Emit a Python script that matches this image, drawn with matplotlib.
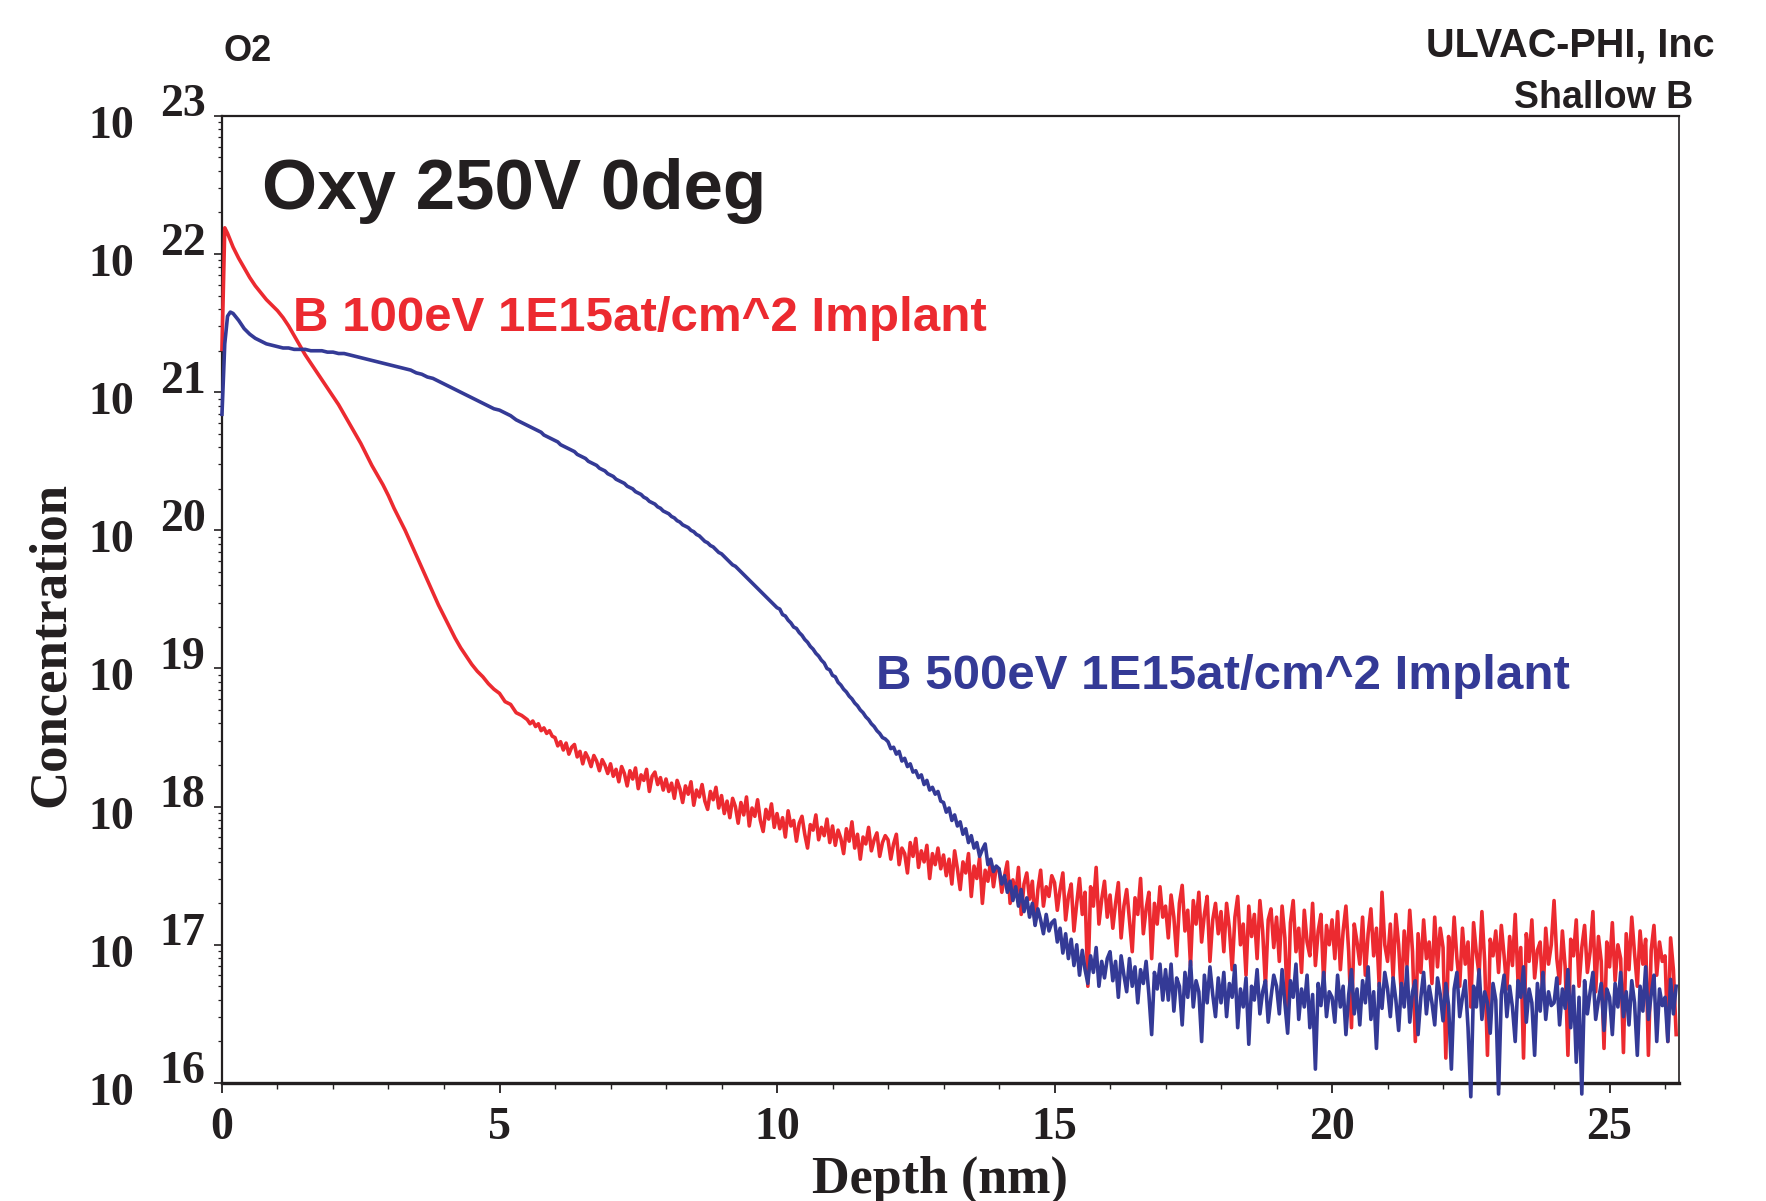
import numpy as np
import matplotlib
matplotlib.use("Agg")
import matplotlib.pyplot as plt
from matplotlib.ticker import LogLocator, MultipleLocator, NullFormatter
from matplotlib.transforms import ScaledTranslation

# ── data: depth (nm) and log10 of B concentration ──
# coarse steps near the surface, 0.05 nm once the counting noise sets in
depth = [
    0.0, 0.05, 0.1, 0.15, 0.2, 0.3, 0.4, 0.5, 0.6, 0.7, 0.8, 0.9,
    1.0, 1.1, 1.2, 1.3, 1.4, 1.5, 1.6, 1.7, 1.8, 1.9,
    2.0, 2.1, 2.2, 2.3, 2.4, 2.5, 2.6, 2.7, 2.8, 2.9,
    3.0, 3.1, 3.2, 3.3, 3.4, 3.5, 3.6, 3.7, 3.8, 3.9,
    4.0, 4.1, 4.2, 4.3, 4.4, 4.5, 4.6, 4.7, 4.8, 4.9,
    5.0, 5.1, 5.2, 5.3, 5.4,
    5.5, 5.55, 5.6, 5.65, 5.7, 5.75, 5.8, 5.85, 5.9, 5.95,
    6.0, 6.05, 6.1, 6.15, 6.2, 6.25, 6.3, 6.35, 6.4, 6.45, 6.5, 6.55, 6.6, 6.65, 6.7, 6.75, 6.8, 6.85, 6.9, 6.95,
    7.0, 7.05, 7.1, 7.15, 7.2, 7.25, 7.3, 7.35, 7.4, 7.45, 7.5, 7.55, 7.6, 7.65, 7.7, 7.75, 7.8, 7.85, 7.9, 7.95,
    8.0, 8.05, 8.1, 8.15, 8.2, 8.25, 8.3, 8.35, 8.4, 8.45, 8.5, 8.55, 8.6, 8.65, 8.7, 8.75, 8.8, 8.85, 8.9, 8.95,
    9.0, 9.05, 9.1, 9.15, 9.2, 9.25, 9.3, 9.35, 9.4, 9.45, 9.5, 9.55, 9.6, 9.65, 9.7, 9.75, 9.8, 9.85, 9.9, 9.95,
    10.0, 10.05, 10.1, 10.15, 10.2, 10.25, 10.3, 10.35, 10.4, 10.45, 10.5, 10.55, 10.6, 10.65, 10.7, 10.75, 10.8, 10.85, 10.9, 10.95,
    11.0, 11.05, 11.1, 11.15, 11.2, 11.25, 11.3, 11.35, 11.4, 11.45, 11.5, 11.55, 11.6, 11.65, 11.7, 11.75, 11.8, 11.85, 11.9, 11.95,
    12.0, 12.05, 12.1, 12.15, 12.2, 12.25, 12.3, 12.35, 12.4, 12.45, 12.5, 12.55, 12.6, 12.65, 12.7, 12.75, 12.8, 12.85, 12.9, 12.95,
    13.0, 13.05, 13.1, 13.15, 13.2, 13.25, 13.3, 13.35, 13.4, 13.45, 13.5, 13.55, 13.6, 13.65, 13.7, 13.75, 13.8, 13.85, 13.9, 13.95,
    14.0, 14.05, 14.1, 14.15, 14.2, 14.25, 14.3, 14.35, 14.4, 14.45, 14.5, 14.55, 14.6, 14.65, 14.7, 14.75, 14.8, 14.85, 14.9, 14.95,
    15.0, 15.05, 15.1, 15.15, 15.2, 15.25, 15.3, 15.35, 15.4, 15.45, 15.5, 15.55, 15.6, 15.65, 15.7, 15.75, 15.8, 15.85, 15.9, 15.95,
    16.0, 16.05, 16.1, 16.15, 16.2, 16.25, 16.3, 16.35, 16.4, 16.45, 16.5, 16.55, 16.6, 16.65, 16.7, 16.75, 16.8, 16.85, 16.9, 16.95,
    17.0, 17.05, 17.1, 17.15, 17.2, 17.25, 17.3, 17.35, 17.4, 17.45, 17.5, 17.55, 17.6, 17.65, 17.7, 17.75, 17.8, 17.85, 17.9, 17.95,
    18.0, 18.05, 18.1, 18.15, 18.2, 18.25, 18.3, 18.35, 18.4, 18.45, 18.5, 18.55, 18.6, 18.65, 18.7, 18.75, 18.8, 18.85, 18.9, 18.95,
    19.0, 19.05, 19.1, 19.15, 19.2, 19.25, 19.3, 19.35, 19.4, 19.45, 19.5, 19.55, 19.6, 19.65, 19.7, 19.75, 19.8, 19.85, 19.9, 19.95,
    20.0, 20.05, 20.1, 20.15, 20.2, 20.25, 20.3, 20.35, 20.4, 20.45, 20.5, 20.55, 20.6, 20.65, 20.7, 20.75, 20.8, 20.85, 20.9, 20.95,
    21.0, 21.05, 21.1, 21.15, 21.2, 21.25, 21.3, 21.35, 21.4, 21.45, 21.5, 21.55, 21.6, 21.65, 21.7, 21.75, 21.8, 21.85, 21.9, 21.95,
    22.0, 22.05, 22.1, 22.15, 22.2, 22.25, 22.3, 22.35, 22.4, 22.45, 22.5, 22.55, 22.6, 22.65, 22.7, 22.75, 22.8, 22.85, 22.9, 22.95,
    23.0, 23.05, 23.1, 23.15, 23.2, 23.25, 23.3, 23.35, 23.4, 23.45, 23.5, 23.55, 23.6, 23.65, 23.7, 23.75, 23.8, 23.85, 23.9, 23.95,
    24.0, 24.05, 24.1, 24.15, 24.2, 24.25, 24.3, 24.35, 24.4, 24.45, 24.5, 24.55, 24.6, 24.65, 24.7, 24.75, 24.8, 24.85, 24.9, 24.95,
    25.0, 25.05, 25.1, 25.15, 25.2, 25.25, 25.3, 25.35, 25.4, 25.45, 25.5, 25.55, 25.6, 25.65, 25.7, 25.75, 25.8, 25.85, 25.9, 25.95,
    26.0, 26.05, 26.1, 26.15, 26.2,
]

# B 100eV 1E15 implant
b100_log = [
    21.31, 22.19, 22.15, 22.10, 22.05, 21.97, 21.90, 21.83, 21.77, 21.72, 21.67, 21.63,
    21.59, 21.54, 21.48, 21.41, 21.34, 21.27, 21.21, 21.15, 21.09, 21.03,
    20.97, 20.91, 20.84, 20.77, 20.70, 20.63, 20.55, 20.47, 20.40, 20.33,
    20.25, 20.16, 20.08, 20.00, 19.91, 19.82, 19.73, 19.64, 19.55, 19.46,
    19.38, 19.30, 19.22, 19.15, 19.09, 19.03, 18.98, 18.94, 18.89, 18.85,
    18.82, 18.76, 18.74, 18.68, 18.66,
    18.63, 18.60, 18.62, 18.58, 18.60, 18.55, 18.57, 18.53, 18.55, 18.51,
    18.50, 18.44, 18.47, 18.41, 18.46, 18.38, 18.43, 18.45, 18.36, 18.40, 18.31, 18.39, 18.35, 18.29, 18.37, 18.33, 18.26, 18.34, 18.30, 18.24,
    18.31, 18.22, 18.27, 18.18, 18.29, 18.24, 18.15, 18.26, 18.20, 18.28, 18.13, 18.23, 18.19, 18.27, 18.11, 18.22, 18.25, 18.16, 18.21, 18.12,
    18.20, 18.11, 18.17, 18.06, 18.19, 18.13, 18.03, 18.15, 18.09, 18.18, 18.01, 18.12, 18.07, 18.16, 18.04, 17.98, 18.11, 18.05, 18.14, 17.99,
    18.08, 17.95, 18.04, 17.92, 18.06, 18.00, 17.88, 18.03, 17.94, 18.07, 17.86, 17.99, 17.93, 18.05, 17.90, 17.82, 17.98, 17.91, 18.02, 17.85,
    17.95, 17.84, 17.92, 17.78, 17.97, 17.86, 17.90, 17.75, 17.88, 17.93, 17.80, 17.70, 17.87, 17.83, 17.94, 17.76, 17.85, 17.79, 17.91, 17.74,
    17.86, 17.72, 17.83, 17.77, 17.66, 17.84, 17.75, 17.89, 17.70, 17.80, 17.62, 17.78, 17.73, 17.85, 17.68, 17.76, 17.81, 17.64, 17.74, 17.79,
    17.76, 17.62, 17.73, 17.80, 17.58, 17.70, 17.66, 17.52, 17.74, 17.64, 17.77, 17.56, 17.68, 17.60, 17.72, 17.48, 17.66, 17.58, 17.70, 17.55,
    17.65, 17.50, 17.62, 17.44, 17.68, 17.55, 17.40, 17.60, 17.52, 17.66, 17.35, 17.57, 17.48, 17.63, 17.30, 17.54, 17.46, 17.61, 17.42, 17.56,
    17.55, 17.38, 17.50, 17.60, 17.30, 17.47, 17.36, 17.56, 17.22, 17.44, 17.52, 17.33, 17.46, 17.15, 17.40, 17.54, 17.28, 17.42, 17.35, 17.50,
    17.45, 17.25, 17.40, 17.52, 17.18, 17.35, 17.44, 17.10, 17.30, 17.48, 17.22, 17.38, 16.70, 17.42, 17.28, 17.56, 17.15, 17.33, 17.46, 17.20,
    17.36, 17.12, 17.30, 17.45, 17.05, 17.28, 17.40, 17.18, 16.95, 17.34, 17.22, 17.48, 17.08, 17.26, 17.38, 16.90, 17.30, 17.15, 17.42, 17.20,
    17.28, 17.05, 17.36, 17.20, 16.92, 17.30, 17.43, 17.10, 17.25, 16.85, 17.32, 17.15, 17.38, 17.02, 17.22, 17.35, 16.88, 17.18, 17.30, 17.08,
    17.24, 16.95, 17.30, 17.12, 16.82, 17.20, 17.35, 17.00, 17.15, 16.78, 17.28, 17.06, 17.22, 16.90, 17.32, 17.10, 16.70, 17.18, 17.26, 16.98,
    17.20, 16.88, 17.28, 17.05, 16.50, 17.16, 17.32, 16.95, 17.12, 16.80, 17.25, 17.02, 16.92, 17.30, 16.85, 17.10, 17.22, 16.72, 17.14, 17.00,
    17.18, 16.90, 17.24, 16.82, 17.10, 17.28, 16.95, 16.40, 17.15, 17.02, 16.86, 17.20, 16.78, 17.08, 17.26, 16.92, 17.12, 16.70, 17.38, 17.00,
    16.88, 17.15, 16.76, 17.22, 17.00, 16.62, 17.10, 16.85, 17.25, 16.95, 16.30, 17.08, 16.80, 17.18, 16.90, 17.02, 16.72, 17.20, 16.84, 17.12,
    16.98, 16.18, 17.06, 16.82, 17.20, 16.90, 16.70, 17.12, 16.86, 17.02, 16.55, 17.16, 16.94, 16.78, 17.24, 16.88, 16.20, 17.04, 16.92, 17.10,
    16.80, 17.14, 16.92, 16.68, 17.06, 16.85, 17.22, 16.74, 16.98, 16.18, 17.08, 16.88, 17.18, 16.76, 16.96, 17.02, 16.62, 17.12, 16.86, 17.00,
    17.32, 16.90, 16.72, 17.10, 16.84, 16.20, 17.04, 16.92, 17.18, 16.70, 16.98, 17.14, 16.80, 16.95, 17.24, 16.66, 17.06, 16.88, 16.25, 17.02,
    16.84, 17.16, 16.74, 17.00, 16.90, 16.22, 17.08, 16.82, 17.20, 16.94, 16.70, 17.10, 16.86, 17.04, 16.20, 16.96, 17.14, 16.78, 17.02, 16.88,
    16.92, 16.30, 17.05, 16.82, 16.35,
]

# B 500eV 1E15 implant
b500_log = [
    20.84, 21.35, 21.55, 21.58, 21.57, 21.52, 21.46, 21.42, 21.39, 21.37, 21.35, 21.34,
    21.33, 21.32, 21.32, 21.31, 21.31, 21.31, 21.30, 21.30, 21.30, 21.29,
    21.29, 21.28, 21.28, 21.27, 21.26, 21.25, 21.24, 21.23, 21.22, 21.21,
    21.20, 21.19, 21.18, 21.17, 21.16, 21.14, 21.13, 21.11, 21.10, 21.08,
    21.06, 21.04, 21.02, 21.00, 20.98, 20.96, 20.94, 20.92, 20.90, 20.88,
    20.87, 20.85, 20.83, 20.80, 20.78,
    20.76, 20.75, 20.74, 20.73, 20.72, 20.71, 20.69, 20.68, 20.67, 20.66,
    20.65, 20.64, 20.62, 20.61, 20.60, 20.59, 20.58, 20.57, 20.55, 20.54, 20.53, 20.52, 20.50, 20.49, 20.48, 20.47, 20.45, 20.44, 20.43, 20.41,
    20.40, 20.39, 20.37, 20.36, 20.35, 20.34, 20.32, 20.31, 20.30, 20.28, 20.27, 20.26, 20.24, 20.23, 20.21, 20.20, 20.19, 20.17, 20.16, 20.14,
    20.13, 20.12, 20.10, 20.09, 20.07, 20.06, 20.04, 20.03, 20.02, 20.00, 19.99, 19.97, 19.96, 19.94, 19.92, 19.91, 19.89, 19.88, 19.86, 19.84,
    19.83, 19.81, 19.79, 19.77, 19.75, 19.74, 19.72, 19.70, 19.68, 19.66, 19.64, 19.62, 19.60, 19.58, 19.56, 19.54, 19.52, 19.50, 19.48, 19.46,
    19.44, 19.43, 19.39, 19.38, 19.35, 19.33, 19.30, 19.29, 19.26, 19.24, 19.21, 19.19, 19.16, 19.14, 19.11, 19.09, 19.06, 19.04, 19.00, 18.99,
    18.95, 18.94, 18.90, 18.88, 18.85, 18.83, 18.80, 18.78, 18.75, 18.73, 18.70, 18.68, 18.65, 18.63, 18.60, 18.58, 18.55, 18.53, 18.50, 18.49,
    18.47, 18.42, 18.43, 18.38, 18.40, 18.33, 18.35, 18.29, 18.31, 18.25, 18.26, 18.21, 18.23, 18.16, 18.19, 18.12, 18.14, 18.09, 18.11, 18.04,
    18.03, 17.96, 17.99, 17.90, 17.94, 17.86, 17.89, 17.80, 17.84, 17.74, 17.79, 17.70, 17.74, 17.64, 17.69, 17.73, 17.58, 17.62, 17.53, 17.57,
    17.55, 17.44, 17.50, 17.38, 17.46, 17.32, 17.42, 17.28, 17.40, 17.24, 17.34, 17.20, 17.30, 17.14, 17.26, 17.18, 17.08, 17.22, 17.10, 17.16,
    17.18, 17.02, 17.12, 16.94, 17.08, 16.90, 17.04, 16.85, 17.00, 16.78, 16.96, 16.82, 16.72, 16.92, 16.80, 16.98, 16.70, 16.88, 16.76, 16.90,
    16.95, 16.74, 16.88, 16.62, 16.92, 16.78, 16.66, 16.90, 16.70, 16.84, 16.58, 16.82, 16.72, 16.88, 16.64, 16.35, 16.80, 16.68, 16.86, 16.60,
    16.82, 16.60, 16.86, 16.52, 16.76, 16.70, 16.42, 16.80, 16.62, 16.88, 16.55, 16.74, 16.66, 16.30, 16.78, 16.58, 16.84, 16.64, 16.48, 16.76,
    16.58, 16.80, 16.48, 16.72, 16.62, 16.85, 16.40, 16.68, 16.55, 16.76, 16.28, 16.70, 16.60, 16.82, 16.50, 16.66, 16.74, 16.44, 16.62, 16.78,
    16.70, 16.50, 16.82, 16.58, 16.36, 16.74, 16.62, 16.86, 16.46, 16.68, 16.55, 16.78, 16.40, 16.64, 16.10, 16.72, 16.56, 16.80, 16.48, 16.66,
    16.62, 16.44, 16.78, 16.55, 16.70, 16.35, 16.64, 16.82, 16.50, 16.68, 16.42, 16.74, 16.58, 16.84, 16.46, 16.66, 16.25, 16.72, 16.54, 16.80,
    16.68, 16.48, 16.76, 16.60, 16.38, 16.72, 16.55, 16.84, 16.44, 16.66, 16.74, 16.35, 16.62, 16.80, 16.50, 16.70, 16.58, 16.42, 16.76, 16.64,
    16.45, 16.72, 16.56, 16.10, 16.68, 16.80, 16.48, 16.62, 16.74, 16.40, 15.90, 16.70, 16.55, 16.82, 16.46, 16.66, 16.58, 16.36, 16.72, 16.60,
    15.92, 16.64, 16.78, 16.48, 16.70, 16.55, 16.30, 16.74, 16.62, 16.84, 16.44, 16.68, 16.58, 16.20, 16.72, 16.52, 16.80, 16.46, 16.66, 16.56,
    16.58, 16.76, 16.42, 16.68, 16.54, 16.82, 16.40, 16.70, 16.15, 16.62, 15.92, 16.74, 16.50, 16.66, 16.80, 16.46, 16.60, 16.72, 16.38, 16.68,
    16.62, 16.35, 16.72, 16.55, 16.80, 16.48, 16.66, 16.42, 16.74, 16.58, 16.20, 16.70, 16.52, 16.84, 16.46, 16.64, 16.78, 16.30, 16.68, 16.56,
    16.62, 16.30, 16.75, 16.50, 16.70,
]

decades = [16, 17, 18, 19, 20, 21, 22, 23]
depth_ticks = [0, 5, 10, 15, 20, 25]

RED = "#EC2A30"
BLUE = "#343A96"
INK = "#231F20"
SERIF = "Liberation Serif"
SANS = "Liberation Sans"

# ── figure ────────────────────────────────────────────────────────────────────
fig = plt.figure(figsize=(17.66, 12.01), dpi=100)
ax = fig.add_axes([0.1257, 0.0983, 0.8250, 0.8052])
ax.set_yscale("log")

ax.plot(depth, 10.0 ** np.array(b100_log), color=RED, lw=2.6, clip_on=False, zorder=3)
ax.plot(depth, 10.0 ** np.array(b500_log), color=BLUE, lw=2.6, clip_on=False, zorder=4)

ax.set_xlim(0, 26.25)
ax.set_ylim(1e16, 1e23)

# x axis
ax.set_xticks(depth_ticks)
ax.set_xticklabels([str(t) for t in depth_ticks], fontfamily=SERIF,
                   fontweight="bold", fontsize=33, color=INK)
ax.xaxis.set_minor_locator(MultipleLocator(1))
ax.tick_params(axis="x", which="major", direction="out", length=7, width=1.3,
               pad=10, colors=INK, top=False)
ax.tick_params(axis="x", which="minor", direction="out", length=4, width=1.0,
               colors=INK, top=False)

# y axis: ticks only, labels drawn as "10" + exponent like the instrument software
ax.set_yticks([10.0 ** d for d in decades])
ax.yaxis.set_major_formatter(NullFormatter())
ax.yaxis.set_minor_locator(LogLocator(base=10, subs=(2, 3, 4, 5, 6, 7, 8, 9)))
ax.yaxis.set_minor_formatter(NullFormatter())
ax.tick_params(axis="y", which="major", direction="out", length=6, width=1.2,
               colors=INK, right=False)
ax.tick_params(axis="y", which="minor", direction="out", length=3, width=0.9,
               colors=INK, right=False)

ytrans = ax.get_yaxis_transform()
down = ScaledTranslation(0, -11 / 100, fig.dpi_scale_trans)
up = ScaledTranslation(0, 10.5 / 100, fig.dpi_scale_trans)
for d in decades:
    ax.text(-0.0758, 10.0 ** d, "10", transform=ytrans + down, ha="center",
            va="center", fontfamily=SERIF, fontweight="bold", fontsize=33, color=INK)
    ax.text(-0.0271, 10.0 ** d, str(d), transform=ytrans + up, ha="center",
            va="center", fontfamily=SERIF, fontweight="bold", fontsize=33, color=INK)

for side, w in [("left", 1.6), ("bottom", 2.4), ("top", 1.6), ("right", 1.2)]:
    ax.spines[side].set_linewidth(w)
    ax.spines[side].set_color(INK)

# axis titles
fig.text(0.0289, 0.463, "Concentration", rotation=90, ha="center", va="center",
         fontfamily=SERIF, fontweight="bold", fontsize=38, color=INK)
fig.text(0.532, 0.018, "Depth (nm)", ha="center", va="center",
         fontfamily=SERIF, fontweight="bold", fontsize=37.5, color=INK)

# annotations
fig.text(0.1404, 0.957, "O2", ha="center", va="center", fontfamily=SANS,
         fontweight="bold", fontsize=26, color=INK)
fig.text(0.9711, 0.962, "ULVAC-PHI, Inc", ha="right", va="center", fontfamily=SANS,
         fontweight="bold", fontsize=28.5, color=INK)
fig.text(0.9587, 0.918, "Shallow B", ha="right", va="center", fontfamily=SANS,
         fontweight="bold", fontsize=27, color=INK)
fig.text(0.1484, 0.841, "Oxy 250V 0deg", ha="left", va="center", fontfamily=SANS,
         fontweight="bold", fontsize=51, color=INK)
fig.text(0.1659, 0.7352, "B 100eV 1E15at/cm^2 Implant", ha="left", va="center",
         fontfamily=SANS, fontweight="bold", fontsize=35.5, color=RED)
fig.text(0.496, 0.437, "B 500eV 1E15at/cm^2 Implant", ha="left", va="center",
         fontfamily=SANS, fontweight="bold", fontsize=35.5, color=BLUE)

fig.savefig("out.png", dpi=100)
